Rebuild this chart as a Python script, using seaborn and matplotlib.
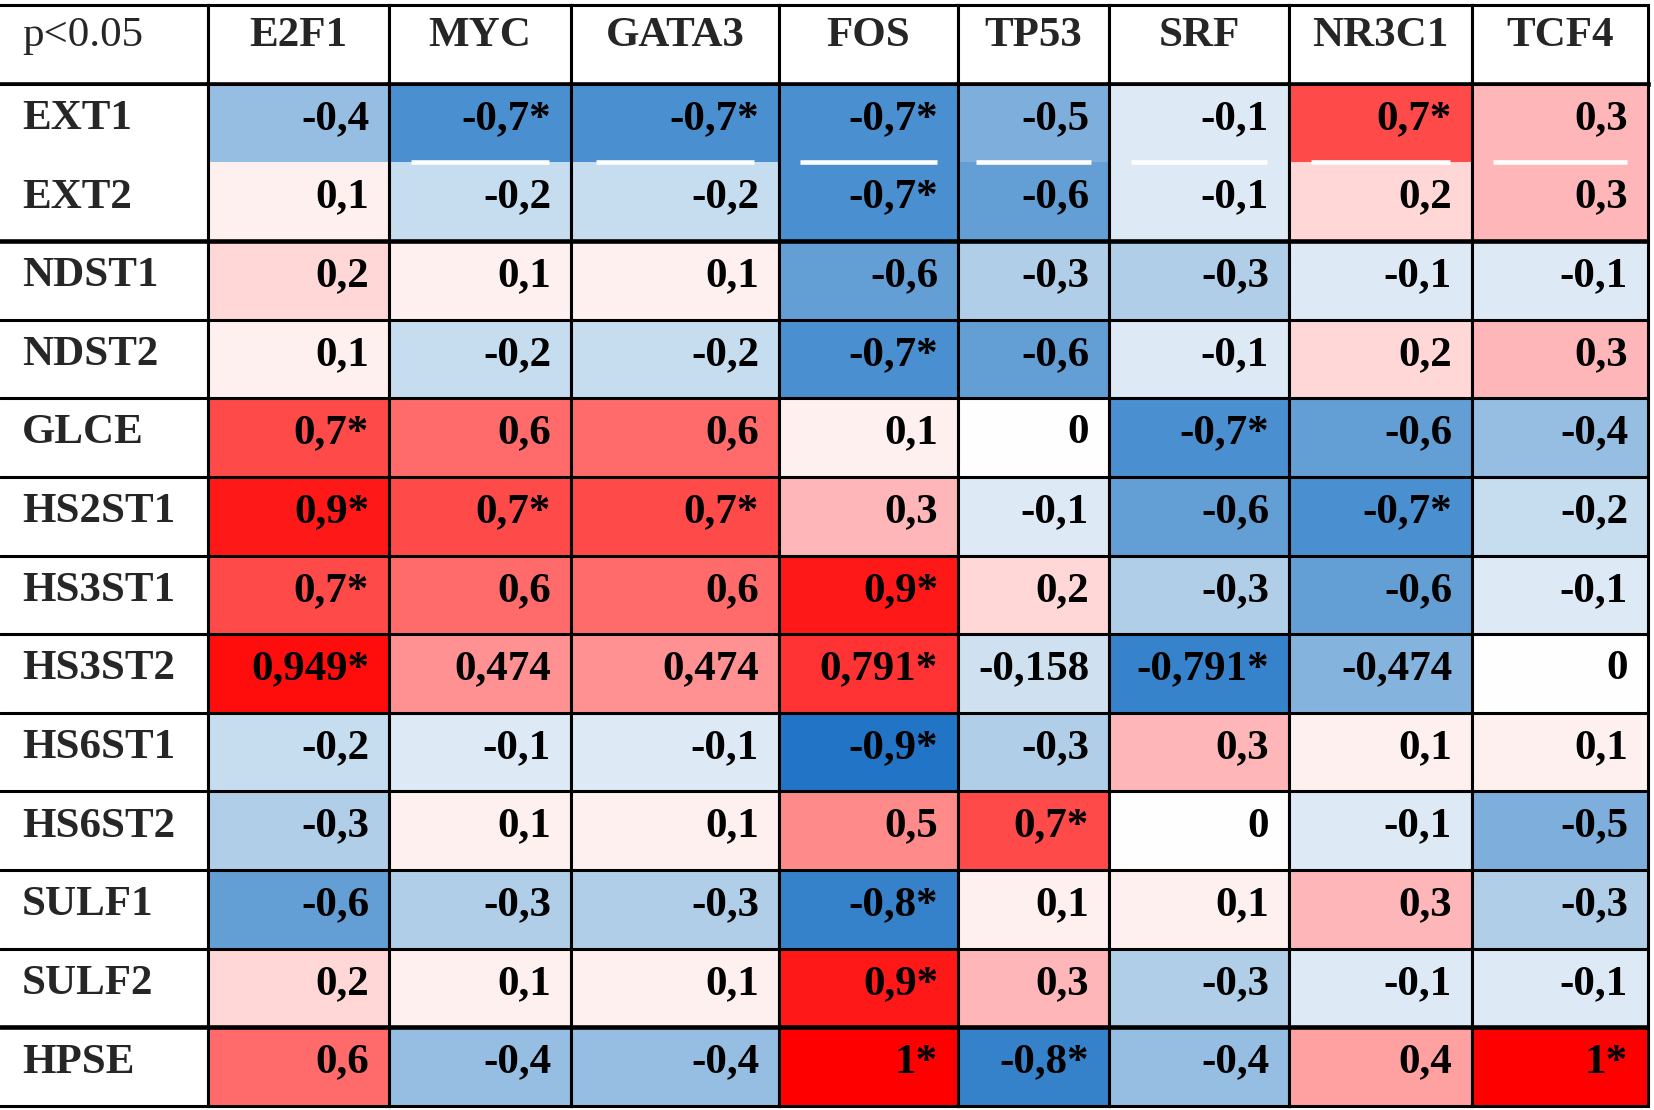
import numpy as np
import pandas as pd
import matplotlib.pyplot as plt
import seaborn as sns
from matplotlib import transforms
from matplotlib.colors import LinearSegmentedColormap

sns.set_style('white')
plt.rcParams['font.family'] = ['Liberation Serif', 'DejaVu Serif']

# rows (heparan sulfate genes) and columns (transcription factors)
genes = ['EXT1', 'EXT2', 'NDST1', 'NDST2', 'GLCE', 'HS2ST1', 'HS3ST1',
         'HS3ST2', 'HS6ST1', 'HS6ST2', 'SULF1', 'SULF2', 'HPSE']
factors = ['E2F1', 'MYC', 'GATA3', 'FOS', 'TP53', 'SRF', 'NR3C1', 'TCF4']

# correlation values, one list per factor, in the order of genes
e2f1 = [-0.4, 0.1, 0.2, 0.1, 0.7, 0.9, 0.7, 0.949, -0.2, -0.3, -0.6, 0.2, 0.6]
myc = [-0.7, -0.2, 0.1, -0.2, 0.6, 0.7, 0.6, 0.474, -0.1, 0.1, -0.3, 0.1, -0.4]
gata3 = [-0.7, -0.2, 0.1, -0.2, 0.6, 0.7, 0.6, 0.474, -0.1, 0.1, -0.3, 0.1, -0.4]
fos = [-0.7, -0.7, -0.6, -0.7, 0.1, 0.3, 0.9, 0.791, -0.9, 0.5, -0.8, 0.9, 1]
tp53 = [-0.5, -0.6, -0.3, -0.6, 0, -0.1, 0.2, -0.158, -0.3, 0.7, 0.1, 0.3, -0.8]
srf = [-0.1, -0.1, -0.3, -0.1, -0.7, -0.6, -0.3, -0.791, 0.3, 0, 0.1, -0.3, -0.4]
nr3c1 = [0.7, 0.2, -0.1, 0.2, -0.6, -0.7, -0.6, -0.474, 0.1, -0.1, 0.3, -0.1, 0.4]
tcf4 = [0.3, 0.3, -0.1, 0.3, -0.4, -0.2, -0.1, 0, 0.1, -0.5, -0.3, -0.1, 1]

# cells with p<0.05 (marked with *)
signif = {
    'E2F1': ['GLCE', 'HS2ST1', 'HS3ST1', 'HS3ST2'],
    'MYC': ['EXT1', 'HS2ST1'],
    'GATA3': ['EXT1', 'HS2ST1'],
    'FOS': ['EXT1', 'EXT2', 'NDST2', 'HS3ST1', 'HS3ST2', 'HS6ST1',
            'SULF1', 'SULF2', 'HPSE'],
    'TP53': ['HS6ST2', 'HPSE'],
    'SRF': ['GLCE', 'HS3ST2'],
    'NR3C1': ['EXT1', 'HS2ST1'],
    'TCF4': ['HPSE'],
}

df = pd.DataFrame({'E2F1': e2f1, 'MYC': myc, 'GATA3': gata3, 'FOS': fos,
                   'TP53': tp53, 'SRF': srf, 'NR3C1': nr3c1, 'TCF4': tcf4},
                  index=genes)

# layout of the table (pixels)
W, H = 1654, 1110
col_widths = [208, 181, 182, 208, 179, 151, 180, 183, 176]
white_gap_cols = ['MYC', 'GATA3', 'FOS', 'TP53', 'SRF', 'NR3C1', 'TCF4']

# excel-like blue-white-red scale, a bit non linear near zero
stops = [(-1.0, '#1069c2'), (-0.7, '#4a8fcf'), (-0.3, '#b0cee8'),
         (-0.1, '#dce9f5'), (0.0, '#ffffff'), (0.1, '#fff0f0'),
         (0.2, '#ffd7d7'), (0.3, '#ffb6b8'), (0.5, '#ff8c8c'),
         (0.7, '#ff4a4a'), (0.9, '#ff1a1a'), (1.0, '#ff0000')]
cmap = LinearSegmentedColormap.from_list(
    'bwr_excel', [((p + 1) / 2, c) for p, c in stops])

fsize = 31
lw = 2.2
lw_thick = 3.3

fig = plt.figure(figsize=(W / 100, H / 100), dpi=100)
gs = fig.add_gridspec(2, 9, width_ratios=col_widths, height_ratios=[1, 13],
                      left=0, right=1648 / W, top=1 - 5 / H, bottom=1 - 1106 / H,
                      wspace=0, hspace=0)


def style_spines(ax, left=True):
    for name, sp in ax.spines.items():
        sp.set_visible(True)
        sp.set_color('black')
        sp.set_linewidth(lw)
    if not left:
        ax.spines['left'].set_visible(False)


def row_lines(ax):
    for i in range(2, len(genes)):
        ax.axhline(i, color='black', lw=lw_thick if i in (2, 12) else lw)


# header row
for j in range(9):
    hax = fig.add_subplot(gs[0, j])
    hax.set_xlim(0, 1)
    hax.set_ylim(1, 0)
    hax.set_xticks([])
    hax.set_yticks([])
    style_spines(hax, left=(j > 0))
    hax.spines['bottom'].set_linewidth(lw_thick)
    if j == 0:
        tr = transforms.offset_copy(hax.transData, fig=fig, x=22, y=0, units='dots')
        hax.text(0, 0.52, 'p<0.05', transform=tr, ha='left', va='baseline',
                 fontsize=fsize)
    else:
        hax.text(0.5, 0.52, factors[j - 1], ha='center', va='baseline',
                 fontsize=fsize, fontweight='bold')

# row labels
lax = fig.add_subplot(gs[1, 0])
lax.set_xlim(0, 1)
lax.set_ylim(len(genes), 0)
lax.set_xticks([])
lax.set_yticks([])
style_spines(lax, left=False)
row_lines(lax)
tr = transforms.offset_copy(lax.transData, fig=fig, x=22, y=0, units='dots')
for i, g in enumerate(genes):
    lax.text(0, i + 0.575, g, transform=tr, ha='left', va='baseline',
             fontsize=fsize, fontweight='bold')

# one heatmap per factor column
for j, f in enumerate(factors):
    ax = fig.add_subplot(gs[1, j + 1])
    sns.heatmap(df[[f]], ax=ax, cmap=cmap, vmin=-1, vmax=1, cbar=False,
                xticklabels=False, yticklabels=False, linewidths=0)
    style_spines(ax)
    row_lines(ax)
    if f in white_gap_cols:
        ax.plot([0.12, 0.88], [1, 1], color='white', lw=lw_thick, solid_capstyle='butt')
    tr = transforms.offset_copy(ax.transData, fig=fig, x=-20, y=0, units='dots')
    for i, g in enumerate(genes):
        v = df.loc[g, f]
        lab = f'{v:g}'.replace('.', ',')
        if g in signif[f]:
            lab += '*'
        ax.text(1, i + 0.575, lab, transform=tr, ha='right', va='baseline',
                fontsize=fsize, fontweight='bold', color='black')

fig.savefig('out.png', dpi=100)
